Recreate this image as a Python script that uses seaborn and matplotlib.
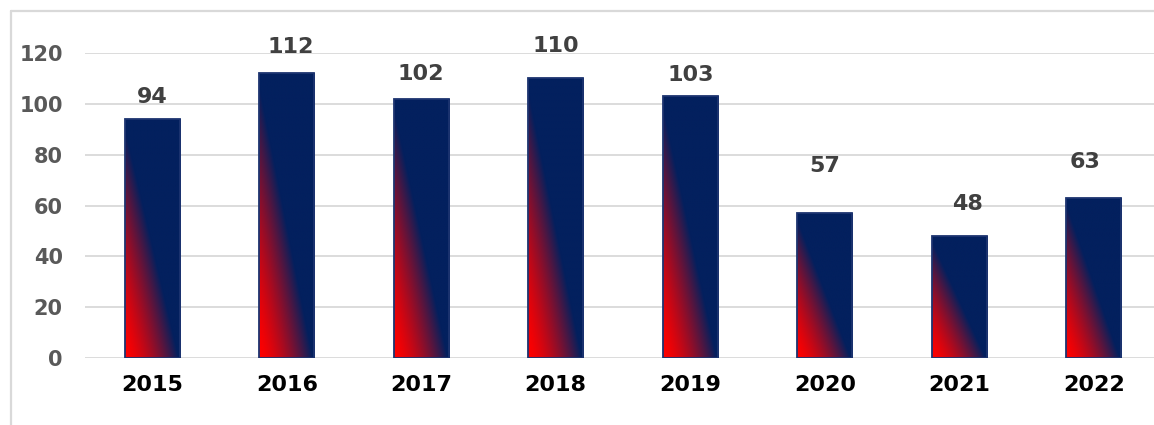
import numpy as np
import pandas as pd
import matplotlib
matplotlib.use("Agg")
import matplotlib.pyplot as plt
from matplotlib.lines import Line2D
from matplotlib.colors import to_rgb
import seaborn as sns

# Yearly counts
years = ["2015", "2016", "2017", "2018", "2019", "2020", "2021", "2022"]
counts = [94, 112, 102, 110, 103, 57, 48, 63]
y_ticks = [0, 20, 40, 60, 80, 100, 120]

# Offsets (in points) of the value labels from each bar top
label_dx = [0, 3, 0, 0, 0, 0, 6, -6]
label_dy = [16, 19, 18, 23, 15, 34, 23, 26]

NAVY = "#03205e"
RED = "#ff0000"

sns.set_theme(style="white")
plt.rcParams["font.family"] = ["DejaVu Sans"]

fig = plt.figure(figsize=(11.54, 4.25), dpi=100)
ax = fig.add_axes([85 / 1154, 67 / 425, 1076 / 1154, 305 / 425])

df = pd.DataFrame({"year": years, "count": counts})
sns.barplot(data=df, x="year", y="count", ax=ax, width=0.41,
            color=NAVY, saturation=1, zorder=2)

# Diagonal gradient (red at bottom-left to navy) filling each bar
n = 240
u, v = np.meshgrid(np.linspace(0, 1, n), np.linspace(0, 1, n))
t = np.clip((u + v) / 2 / 0.48, 0, 1) ** 1.5
t = t[..., None]
grad = (1 - t) * np.array(to_rgb(RED)) + t * np.array(to_rgb(NAVY))

for p in ax.patches:
    x0, w, h = p.get_x(), p.get_width(), p.get_height()
    im = ax.imshow(grad, origin="lower", extent=[x0, x0 + w, 0, h],
                   aspect="auto", interpolation="bilinear", zorder=2.5)
    im.set_clip_path(p)
    p.set_facecolor("none")
    p.set_edgecolor("#1d3470")
    p.set_linewidth(1.3)
    p.set_zorder(3)

ax.set_xlim(-0.5, len(years) - 0.5)
ax.set_ylim(0, 120)
ax.set_yticks(y_ticks)
ax.yaxis.grid(True, color="#d9d9d9", linewidth=1.3, zorder=0)
ax.set_axisbelow(True)
for s in ax.spines.values():
    s.set_visible(False)
ax.set_xlabel("")
ax.set_ylabel("")
ax.tick_params(axis="y", length=0, pad=16, labelsize=15, labelcolor="#595959")
ax.tick_params(axis="x", length=0, pad=12, labelsize=16, labelcolor="#000000")
for lbl in ax.get_yticklabels() + ax.get_xticklabels():
    lbl.set_fontweight("bold")

for i, val in enumerate(counts):
    ax.annotate(str(val), xy=(i, val), xytext=(label_dx[i], label_dy[i]),
                textcoords="offset points", ha="center", va="center",
                fontsize=16, fontweight="bold", color="#404040",
                annotation_clip=False)

# Light frame lines along the top and left of the chart area
frame_x = 10.5 / 1154
frame_y = 1 - 10.5 / 425
fig.add_artist(Line2D([frame_x, 1.0], [frame_y, frame_y],
                      transform=fig.transFigure, color="#d9d9d9", linewidth=1.6))
fig.add_artist(Line2D([frame_x, frame_x], [0.0, frame_y],
                      transform=fig.transFigure, color="#d9d9d9", linewidth=1.6))

fig.savefig("out.png", dpi=100, facecolor="white")
